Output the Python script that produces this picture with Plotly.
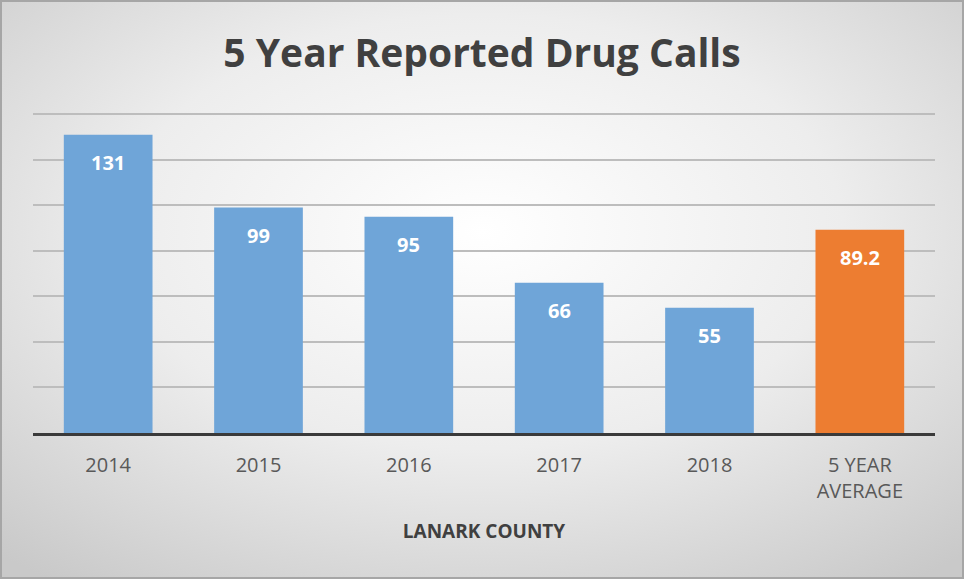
import base64
import plotly.graph_objects as go

categories = ["2014", "2015", "2016", "2017", "2018", "5 YEAR<br>AVERAGE"]
values = [131, 99, 95, 66, 55, 89.2]
labels = ["131", "99", "95", "66", "55", "89.2"]
colors = ["#6fa5d8", "#6fa5d8", "#6fa5d8", "#6fa5d8", "#6fa5d8", "#ed7d31"]

W, H = 964, 579
svg = f'''<svg xmlns="http://www.w3.org/2000/svg" width="{W}" height="{H}" viewBox="0 0 {W} {H}" preserveAspectRatio="none">
<defs><radialGradient id="g" cx="50%" cy="40%" r="75%">
<stop offset="0%" stop-color="#ffffff"/><stop offset="50%" stop-color="#ededed"/><stop offset="100%" stop-color="#c9c9c9"/>
</radialGradient></defs>
<rect x="0" y="0" width="{W}" height="{H}" fill="url(#g)"/>
<rect x="1" y="1" width="{W-2}" height="{H-2}" fill="none" stroke="#a6a6a6" stroke-width="2"/>
</svg>'''
uri = "data:image/svg+xml;base64," + base64.b64encode(svg.encode()).decode()

fig = go.Figure()
fig.add_trace(go.Bar(x=categories, y=values, marker=dict(color=colors, line=dict(width=0)),
                     hoverinfo="x+y"))

for i, (v, t) in enumerate(zip(values, labels)):
    fig.add_annotation(x=i, y=v, text=f"<b>{t}</b>", showarrow=False, yanchor="middle",
                       yshift=-28, font=dict(color="white", size=20, family="Open Sans"))

ml, mr, mt, mb = 33, 29, 113, 146
fig.update_layout(
    width=W, height=H,
    margin=dict(l=ml, r=mr, t=mt, b=mb, autoexpand=False),
    paper_bgcolor="rgba(0,0,0,0)",
    plot_bgcolor="rgba(0,0,0,0)",
    bargap=0.41,
    showlegend=False,
    title=dict(text="<b>5 Year Reported Drug Calls</b>", x=0.5, xanchor="center",
               y=1 - 53 / H, yanchor="middle", yref="container",
               font=dict(size=39, color="#404040", family="Open Sans")),
    images=[dict(source=uri, xref="paper", yref="paper",
                 x=-ml / (W - ml - mr), y=1 + mt / (H - mt - mb),
                 sizex=W / (W - ml - mr), sizey=H / (H - mt - mb),
                 xanchor="left", yanchor="top", sizing="stretch", layer="below")],
    xaxis=dict(type="category", range=[-0.5, len(categories) - 0.5], showline=True,
               linecolor="#3a3a3a", linewidth=3, ticks="outside", ticklen=12,
               tickcolor="rgba(0,0,0,0)",
               tickfont=dict(size=20, color="#595959", family="Open Sans"),
               title=dict(text="<b>LANARK COUNTY</b>", standoff=22,
                          font=dict(size=19, color="#404040", family="Open Sans"))),
    yaxis=dict(range=[0, 140.5], dtick=20, showticklabels=False, gridcolor="#bdbdbd",
               gridwidth=1.5, zeroline=False, showline=False),
)
fig.write_html("out.html", post_script="document.body.style.margin='0';",
               config={"displayModeBar": False})
